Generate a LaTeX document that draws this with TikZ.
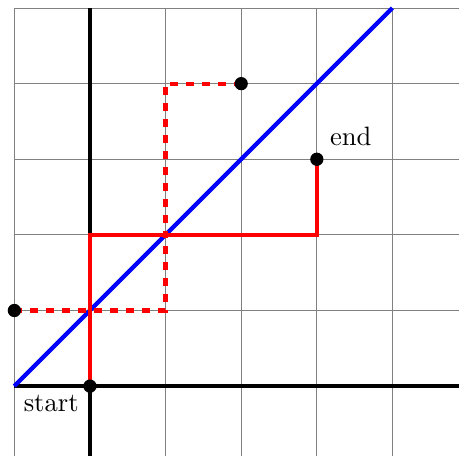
\documentclass[tikz,border=0pt]{standalone}
\usetikzlibrary{positioning}

\begin{document}
\begin{tikzpicture}[
    gridline/.style={gray, thin},
    axis/.style={black, ultra thick},
    diagonal/.style={blue, ultra thick},
    route/.style={red, ultra thick},
    dot/.style={circle, fill=black, inner sep=0pt, minimum size=5pt}
]
\useasboundingbox (-1.19,-0.926) rectangle (4.88,5.106);

% Points
\coordinate (origin) at (0,0);
\coordinate (left) at (-1,0);
\coordinate (target) at (3,3);
\coordinate (from) at (-1,1);
\coordinate (to) at (2,4);
\coordinate (top) at (4,5);

% Grid and axes
\draw[gridline] (-1,-0.926) grid (4.88,5);
\draw[axis] (-1,0) -- (4.88,0);
\draw[axis] (0,-0.926) -- (0,5);

% Diagonal
\draw[diagonal] (left) -- (top);

% Paths
\draw[route] (origin) -- (0,2) -| (target);
\draw[route, dashed] (from) -| (1,4) -- (to);

% Dots and labels
\node[dot] (startdot) at (origin) {};
\node[dot] (enddot) at (target) {};
\node[dot] (fromdot) at (from) {};
\node[dot] (todot) at (to) {};
\node[below right=0pt of left] (startlabel) {start};
\node[above right=0.05 and 0.05 of target] (endlabel) {end};

\end{tikzpicture}
\end{document}
